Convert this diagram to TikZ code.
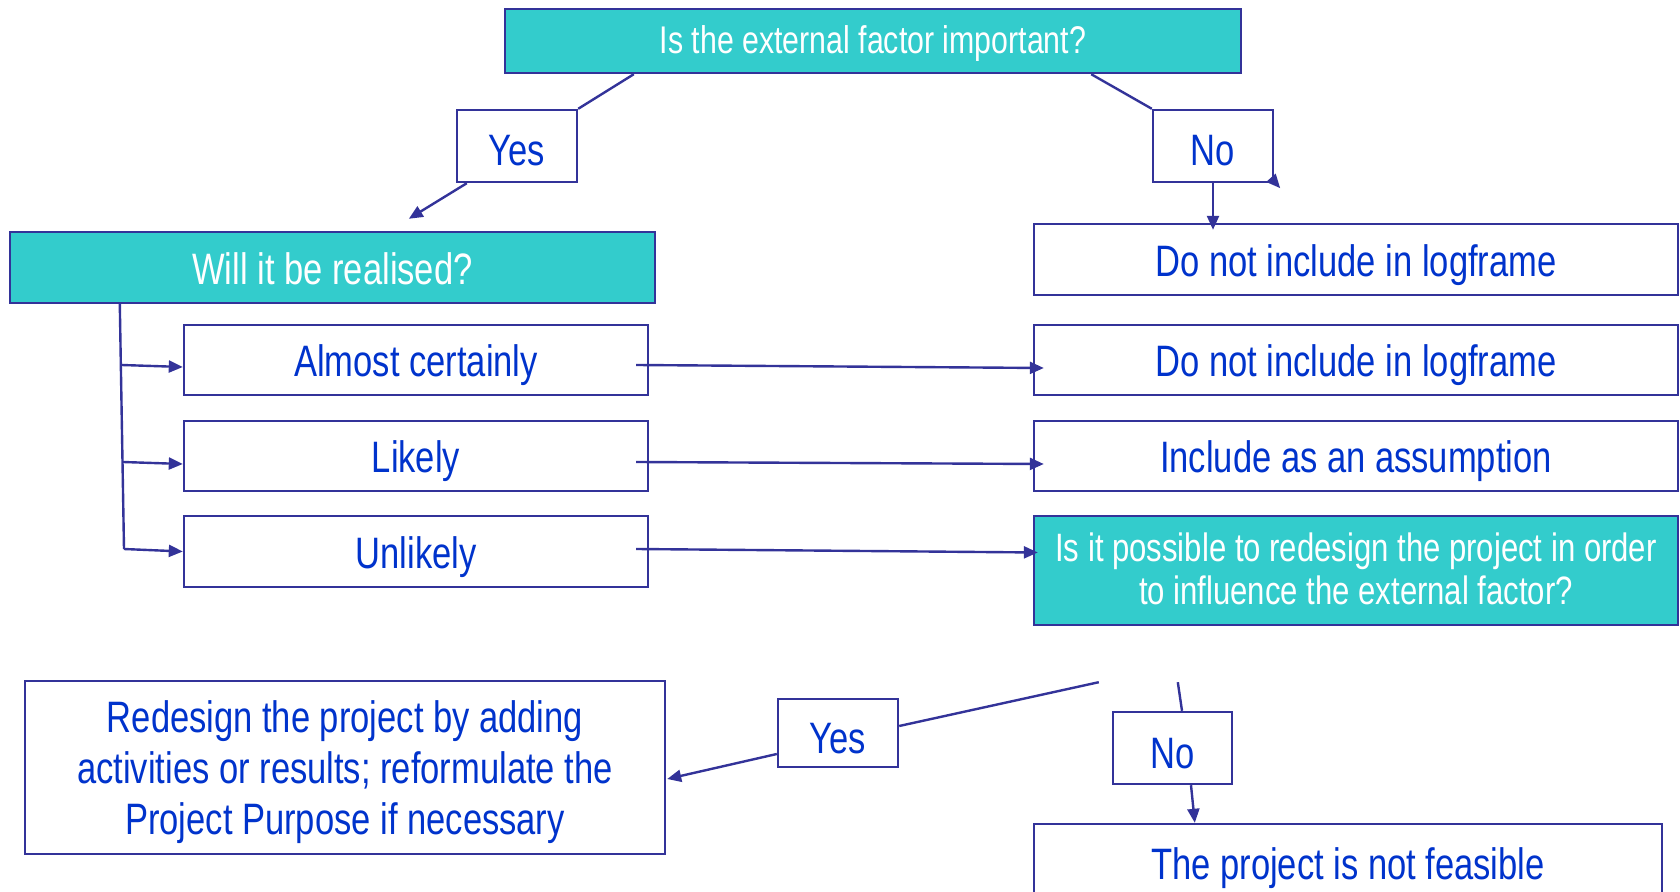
\documentclass[tikz,border=0pt]{standalone}
\usepackage{fontspec}
\setmainfont[FakeStretch=0.785]{Liberation Sans}
\usetikzlibrary{arrows.meta,calc}
\definecolor{edgeblue}{HTML}{333399}
\definecolor{qfill}{HTML}{33CCCC}
\definecolor{txtblue}{HTML}{0033CC}
\begin{document}
\begin{tikzpicture}[x=0.5pt,y=-0.5pt,
  box/.style={draw=edgeblue,line width=1.2pt,fill=white,text=txtblue,inner sep=0pt,
              align=center,font=\fontsize{22}{25.5}\selectfont},
  oneline/.style={text height=17pt,text depth=0pt},
  answer/.style={box,minimum width=60pt,text height=20pt,text depth=0pt},
  question/.style={box,fill=qfill,text=white},
  arr/.style={draw=edgeblue,line width=1.2pt,-{Triangle[length=7pt,width=6pt]}},
  link/.style={draw=edgeblue,line width=1.2pt}]
\useasboundingbox (0,0) rectangle (1680,892);

% first question and its two answers
\node[question,minimum width=368pt,minimum height=32pt,font=\fontsize{19.3}{22}\selectfont,
      text height=12.6pt,text depth=0pt]
  (top) at (873,41) {Is the external factor important?};
\node[answer,minimum height=36pt] (yes1) at (517,146) {Yes};
\node[answer,minimum height=36pt] (no1) at (1213,146) {No};

% second question with its three outcomes
\node[question,oneline,minimum width=322.5pt,minimum height=35.5pt] (will) at (332.5,267.5) {Will it be realised?};
\node[box,oneline,minimum width=232pt,minimum height=35pt] (l1) at (416,360) {Almost certainly};
\node[box,oneline,minimum width=232pt,minimum height=35pt] (l2) at (416,456) {Likely};
\node[box,oneline,minimum width=232pt,minimum height=35.5pt] (l3) at (416,551.5) {Unlikely};

% consequences column
\node[box,oneline,minimum width=322pt,minimum height=35.5pt] (r1) at (1356,259.5) {Do not include in logframe};
\node[box,oneline,minimum width=322pt,minimum height=35pt] (r2) at (1356,360) {Do not include in logframe};
\node[box,oneline,minimum width=322pt,minimum height=35pt] (r3) at (1356,456) {Include as an assumption};
\node[question,minimum width=322pt,minimum height=54.5pt,font=\fontsize{19.8}{21.5}\selectfont,
      text depth=2pt]
  (r4) at (1356,570.5) {Is it possible to redesign the project in order\\to influence the external factor?};

% last decision
\node[box,minimum width=320pt,minimum height=86.5pt,text depth=-3pt] (redo) at (345,767.5)
  {Redesign the project by adding\\activities or results; reformulate the\\Project Purpose if necessary};
\node[answer,minimum height=34pt] (yes2) at (838,733) {Yes};
\node[answer,minimum width=59.5pt,minimum height=36pt] (no2) at (1172.5,748) {No};
\node[box,oneline,minimum width=314pt,minimum height=38pt] (nf) at (1348,862) {The project is not feasible};

% connectors from the first question
\draw[link] ([xshift=65pt]top.south west) -- (yes1.north east);
\draw[link] ([xshift=-75.5pt]top.south east) -- (no1.north west);
\draw[arr] ([xshift=5.5pt]yes1.south west) -- ([xshift=200pt,yshift=6pt]will.north west);
\draw[arr] (no1.south) -- ([yshift=-3.5pt]no1.south |- r1.north);
\draw[arr] ([xshift=-1pt,yshift=2pt]no1.south east) -- ([xshift=3pt,yshift=-2.5pt]no1.south east);

% trunk and branches from the second question
\coordinate (t0) at ([xshift=55.5pt]will.south west);
\coordinate (t1) at (121.8,365);
\coordinate (t2) at (123,462);
\coordinate (t3) at (124,549);
\draw[link] (t0) -- (t3);
\draw[arr] (t1) -- ([yshift=-3.5pt]l1.west);
\draw[arr] (t2) -- ([yshift=-4pt]l2.west);
\draw[arr] (t3) -- (l3.west);

% outcomes to consequences
\draw[arr] ([xshift=-6.5pt,yshift=-2.5pt]l1.east) -- ([xshift=5.5pt,yshift=-4pt]r2.west);
\draw[arr] ([xshift=-6.5pt,yshift=-3pt]l2.east) -- ([xshift=5.5pt,yshift=-4pt]r3.west);
\draw[arr] ([xshift=-6.5pt,yshift=1.25pt]l3.east) -- ([xshift=2.5pt,yshift=9pt]r4.west);

% answers to the redesign question
\coordinate (ya) at ([xshift=33pt,yshift=-28pt]r4.south west);
\coordinate (na) at ([xshift=72.5pt,yshift=-28pt]r4.south west);
\draw[link] (ya) -- ([yshift=3.5pt]yes2.east);
\draw[arr] ([yshift=-10.5pt]yes2.west) -- ([xshift=0.5pt,yshift=-5.75pt]redo.east);
\draw[link] (na) -- ([xshift=4.75pt]no2.north);
\draw[arr] ([xshift=9.25pt]no2.south) -- ([xshift=81pt]nf.north west);
\end{tikzpicture}
\end{document}
